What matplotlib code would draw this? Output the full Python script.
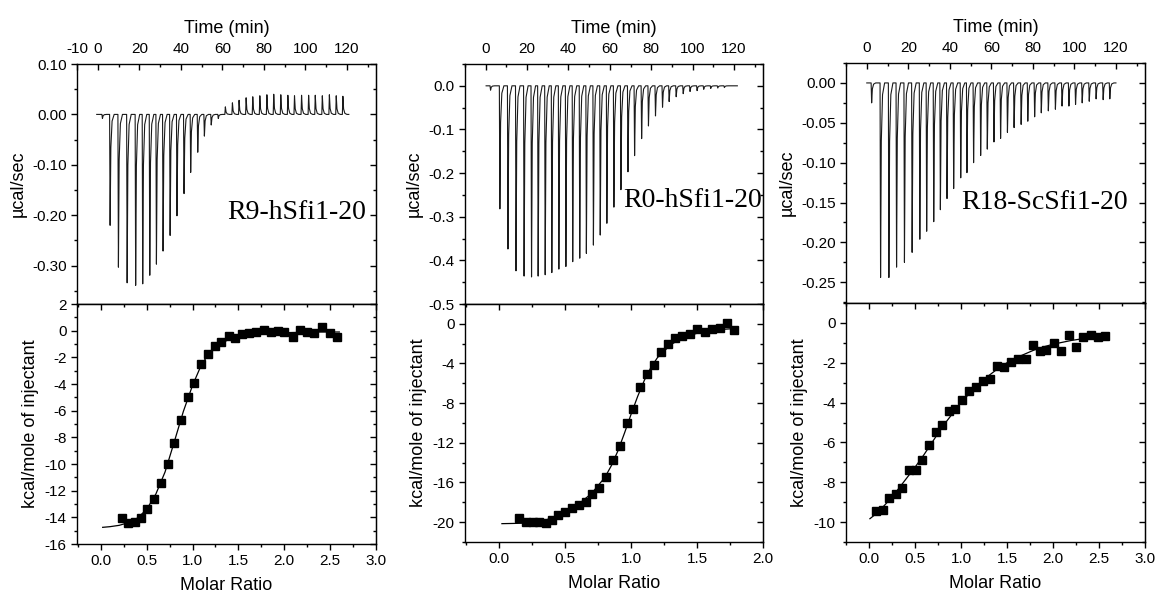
import matplotlib
matplotlib.use('Agg')
import matplotlib.pyplot as plt
from matplotlib.ticker import MultipleLocator, FixedLocator, FormatStrFormatter

plt.rcParams['font.family'] = ['Liberation Sans', 'DejaVu Sans']
plt.rcParams['axes.unicode_minus'] = False

# ---- raw thermograms (injection time in min, peak height in ucal/sec) ----
t_r9 = [2.0, 5.7, 9.7, 13.9, 18.0, 21.4, 24.8, 28.0, 31.2, 34.6, 37.9, 41.3,
        44.5, 47.9, 51.1, 54.4, 57.8, 61.2, 64.6, 67.8, 71.2, 74.4, 77.8, 81.2,
        84.5, 87.9, 91.3, 94.5, 97.9, 101.3, 104.5, 107.9, 111.3, 114.6, 117.8]
p_r9 = [-0.008, -0.22, -0.303, -0.334, -0.339, -0.336, -0.319, -0.297, -0.271,
        -0.24, -0.201, -0.157, -0.115, -0.075, -0.043, -0.021, -0.008, 0.015,
        0.023, 0.028, 0.033, 0.035, 0.037, 0.039, 0.040, 0.039, 0.038, 0.037,
        0.038, 0.038, 0.038, 0.037, 0.039, 0.037, 0.036]

t_r0 = [2.1, 6.6, 10.5, 14.4, 18.3, 21.9, 25.1, 28.5, 31.7, 35.1, 38.5, 41.8,
        45.2, 48.4, 51.8, 55.1, 58.3, 61.7, 65.1, 68.5, 71.7, 75.1, 78.4, 81.8,
        85.2, 88.4, 91.8, 95.2, 98.5, 101.9, 105.1, 108.5, 111.9, 115.1]
p_r0 = [-0.01, -0.282, -0.374, -0.424, -0.436, -0.438, -0.436, -0.433, -0.428,
        -0.42, -0.414, -0.403, -0.395, -0.384, -0.365, -0.342, -0.315, -0.278,
        -0.238, -0.197, -0.16, -0.121, -0.092, -0.069, -0.049, -0.036, -0.025,
        -0.018, -0.013, -0.011, -0.008, -0.006, -0.005, -0.004]

t_r18 = [2.1, 6.4, 10.4, 14.1, 17.9, 21.6, 25.3, 28.6, 32.0, 35.2, 38.4, 41.6,
         45.0, 48.0, 51.2, 54.6, 57.8, 61.0, 64.2, 67.5, 70.7, 74.1, 77.3, 80.6,
         83.8, 87.2, 90.6, 93.8, 97.1, 100.3, 103.5, 106.9, 110.2, 113.6, 116.8]
p_r18 = [-0.025, -0.244, -0.244, -0.231, -0.225, -0.2125, -0.196, -0.186,
         -0.174, -0.159, -0.145, -0.1325, -0.119, -0.1125, -0.1, -0.091, -0.083,
         -0.074, -0.0696, -0.062, -0.056, -0.052, -0.048, -0.0425, -0.0375,
         -0.035, -0.033, -0.029, -0.029, -0.027, -0.025, -0.023, -0.02, -0.021,
         -0.02]

# ---- integrated heats (molar ratio, kcal/mole of injectant) ----
mr_r9 = [0.229, 0.295, 0.367, 0.436, 0.505, 0.58, 0.655, 0.727, 0.793, 0.869,
         0.945, 1.018, 1.09, 1.167, 1.244, 1.313, 1.393, 1.465, 1.538, 1.615,
         1.69, 1.775, 1.855, 1.927, 2.0, 2.09, 2.17, 2.247, 2.327, 2.415, 2.495,
         2.575]
h_r9 = [-14.07, -14.4, -14.35, -14.05, -13.35, -12.6, -11.4, -10.0, -8.45,
        -6.7, -4.95, -3.95, -2.48, -1.75, -1.18, -0.88, -0.43, -0.55, -0.25,
        -0.18, -0.08, 0.03, -0.13, -0.05, -0.1, -0.5, 0.08, -0.13, -0.18, 0.25,
        -0.15, -0.5]
fit_x_r9 = [0.02, 0.1, 0.2, 0.3, 0.4, 0.5, 0.6, 0.7, 0.8, 0.9, 1.0, 1.1, 1.2,
            1.3, 1.4, 1.5, 1.6, 1.8, 2.0, 2.2, 2.4, 2.6]
fit_y_r9 = [-14.75, -14.7, -14.6, -14.4, -14.05, -13.4, -12.25, -10.6, -8.35,
            -6.05, -4.1, -2.5, -1.55, -0.98, -0.65, -0.45, -0.33, -0.2, -0.15,
            -0.12, -0.1, -0.1]

mr_r0 = [0.152, 0.202, 0.253, 0.30, 0.351, 0.40, 0.449, 0.50, 0.55, 0.604,
         0.654, 0.705, 0.755, 0.806, 0.859, 0.912, 0.965, 1.015, 1.068, 1.121,
         1.174, 1.227, 1.283, 1.336, 1.389, 1.444, 1.5, 1.558, 1.614, 1.672,
         1.727, 1.783]
h_r0 = [-19.57, -19.97, -20.0, -20.0, -20.1, -19.83, -19.27, -18.93, -18.6,
        -18.23, -18.0, -17.2, -16.55, -15.45, -13.75, -12.35, -9.97, -8.63,
        -6.4, -5.07, -4.17, -2.87, -2.07, -1.43, -1.2, -1.07, -0.57, -0.83,
        -0.5, -0.47, 0.1, -0.63]
fit_x_r0 = [0.02, 0.1, 0.2, 0.3, 0.4, 0.5, 0.6, 0.7, 0.8, 0.85, 0.9, 0.95,
            1.0, 1.05, 1.1, 1.15, 1.2, 1.3, 1.4, 1.5, 1.6, 1.7, 1.78]
fit_y_r0 = [-20.15, -20.13, -20.1, -19.95, -19.6, -19.0, -18.2, -17.1, -15.5,
            -14.3, -12.8, -11.0, -9.1, -7.3, -5.7, -4.4, -3.4, -2.1, -1.35,
            -0.95, -0.7, -0.55, -0.48]

mr_r18 = [0.08, 0.152, 0.221, 0.29, 0.362, 0.431, 0.507, 0.58, 0.652, 0.725,
          0.793, 0.866, 0.938, 1.014, 1.09, 1.167, 1.239, 1.315, 1.395, 1.471,
          1.547, 1.623, 1.703, 1.779, 1.855, 1.927, 2.007, 2.09, 2.17, 2.25,
          2.33, 2.41, 2.486, 2.565]
h_r18 = [-9.42, -9.38, -8.8, -8.6, -8.28, -7.4, -7.38, -6.86, -6.14, -5.49,
         -5.11, -4.42, -4.32, -3.89, -3.4, -3.2, -2.9, -2.8, -2.14, -2.19,
         -1.95, -1.82, -1.82, -1.1, -1.42, -1.38, -1.0, -1.4, -0.62, -1.23,
         -0.7, -0.62, -0.73, -0.67]
fit_x_r18 = [0.01, 0.1, 0.2, 0.3, 0.4, 0.5, 0.6, 0.7, 0.8, 0.9, 1.0, 1.1, 1.2,
             1.3, 1.4, 1.5, 1.6, 1.7, 1.8, 1.9, 2.0, 2.2, 2.4, 2.6]
fit_y_r18 = [-9.83, -9.5, -9.0, -8.45, -7.85, -7.25, -6.6, -5.9, -5.2, -4.6,
             -4.0, -3.5, -3.05, -2.65, -2.3, -2.0, -1.75, -1.55, -1.35, -1.2,
             -1.07, -0.88, -0.74, -0.63]

names = ['R9-hSfi1-20', 'R0-hSfi1-20', 'R18-ScSfi1-20']


def trace(times, peaks, t_start, t_end):
    # baseline with one narrow spike per injection
    xs = [t_start]
    ys = [0.0]
    for t, p in zip(times, peaks):
        xs += [t, t + 0.25, t + 0.6, t + 1.2, t + 2.2]
        ys += [0.0, p, 0.3 * p, 0.06 * p, 0.0]
    xs.append(t_end)
    ys.append(0.0)
    return xs, ys


def style_ticks(ax, xmaj, xmin, ymaj, ymin, top_panel):
    ax.xaxis.set_major_locator(xmaj)
    ax.xaxis.set_minor_locator(MultipleLocator(xmin))
    ax.yaxis.set_major_locator(MultipleLocator(ymaj))
    ax.yaxis.set_minor_locator(MultipleLocator(ymin))
    ax.tick_params(axis='y', which='both', direction='out', left=True, right=False,
                   labelsize=11, width=1)
    ax.tick_params(axis='y', which='major', length=4)
    ax.tick_params(axis='y', which='minor', length=2.5)
    sec = ax.secondary_yaxis('right')
    sec.yaxis.set_major_locator(MultipleLocator(ymaj))
    sec.yaxis.set_minor_locator(MultipleLocator(ymin))
    sec.tick_params(which='both', direction='in', labelright=False, width=1)
    sec.tick_params(which='major', length=4)
    sec.tick_params(which='minor', length=2.5)
    if top_panel:
        ax.xaxis.tick_top()
        ax.tick_params(axis='x', which='both', direction='in', top=True, bottom=False,
                       labeltop=True, labelbottom=False, labelsize=11, width=1, pad=6)
        ax.tick_params(axis='x', which='major', length=4)
        ax.tick_params(axis='x', which='minor', length=2.5)
    else:
        ax.tick_params(axis='x', which='both', direction='out', labelsize=11, width=1)
        ax.tick_params(axis='x', which='major', length=4)
        ax.tick_params(axis='x', which='minor', length=2.5)
        sec2 = ax.secondary_xaxis('top')
        sec2.xaxis.set_major_locator(xmaj)
        sec2.xaxis.set_minor_locator(MultipleLocator(xmin))
        sec2.tick_params(which='both', direction='in', labeltop=False, width=1)
        sec2.tick_params(which='major', length=4)
        sec2.tick_params(which='minor', length=2.5)
    for s in ax.spines.values():
        s.set_linewidth(1.0)


fig = plt.figure(figsize=(11.58, 5.94), dpi=100)

lefts = [77, 465, 846]
widths = [299, 298, 299]
tops = [64, 64, 63]
mids = [304, 304, 303]
bottoms = [544, 542, 542]

traces = [(t_r9, p_r9, -0.5, 120.9), (t_r0, p_r0, 0.2, 121.6), (t_r18, p_r18, 0.0, 120.0)]
heats = [(mr_r9, h_r9, fit_x_r9, fit_y_r9), (mr_r0, h_r0, fit_x_r0, fit_y_r0),
         (mr_r18, h_r18, fit_x_r18, fit_y_r18)]
top_ylims = [(-0.376, 0.10), (-0.5, 0.05), (-0.276, 0.025)]
top_ysteps = [(0.1, 0.05, '%.2f'), (0.1, 0.05, '%.1f'), (0.05, 0.025, '%.2f')]
bot_ylims = [(-16, 2), (-22, 2), (-11, 1)]
bot_ysteps = [(2, 1), (4, 2), (2, 1)]
bot_xlims = [(-0.26, 3.0), (-0.26, 2.0), (-0.25, 3.0)]
text_pos = [(0.967, 0.38), (0.995, 0.433), (0.943, 0.42)]

W, H = 1158.0, 594.0
for i in range(3):
    l = lefts[i] / W
    w = widths[i] / W
    ax1 = fig.add_axes([l, 1 - mids[i] / H, w, (mids[i] - tops[i]) / H])
    ax2 = fig.add_axes([l, 1 - bottoms[i] / H, w, (bottoms[i] - mids[i]) / H])

    # raw data
    tx, ty = trace(*traces[i])
    ax1.plot(tx, ty, color='#1a1a1a', lw=0.8)
    ax1.set_xlim(-10, 134)
    ax1.set_ylim(*top_ylims[i])
    if i == 0:
        xt = [-10, 0, 20, 40, 60, 80, 100, 120]
    else:
        xt = [0, 20, 40, 60, 80, 100, 120]
    style_ticks(ax1, FixedLocator(xt), 10, top_ysteps[i][0], top_ysteps[i][1], True)
    ax1.yaxis.set_major_formatter(FormatStrFormatter(top_ysteps[i][2]))
    ax1.set_xlabel('Time (min)', fontsize=13, labelpad=6)
    ax1.xaxis.set_label_position('top')
    ax1.set_ylabel('\u00b5cal/sec', fontsize=13)
    ax1.text(text_pos[i][0], text_pos[i][1], names[i], transform=ax1.transAxes,
             ha='right', va='center', fontsize=20, family='Liberation Serif')

    # integrated heats + fit
    mx, hy, fx, fy = heats[i]
    ax2.plot(fx, fy, color='black', lw=0.9)
    ax2.plot(mx, hy, 's', color='black', ms=5.5)
    ax2.set_xlim(*bot_xlims[i])
    ax2.set_ylim(*bot_ylims[i])
    style_ticks(ax2, MultipleLocator(0.5), 0.25, bot_ysteps[i][0], bot_ysteps[i][1], False)
    ax2.xaxis.set_major_formatter(FormatStrFormatter('%.1f'))
    ax2.set_xlabel('Molar Ratio', fontsize=13, labelpad=6)
    ax2.set_ylabel('kcal/mole of injectant', fontsize=13)

fig.savefig('out.png', dpi=100)
